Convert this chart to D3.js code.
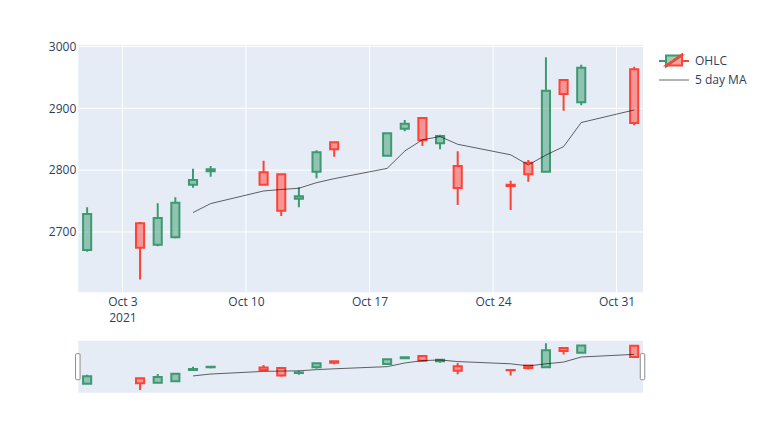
<!DOCTYPE html>
<html>
<head>
<meta charset="utf-8">
<script src="https://cdn.jsdelivr.net/npm/d3@7"></script>
<style>
  html, body { margin: 0; padding: 0; background: #fff; }
  svg { display: block; font-family: "Open Sans", verdana, arial, sans-serif; }
</style>
</head>
<body>
<svg id="chart" width="768" height="443"></svg>
<script>
// ---- data ----
const dates = ["2021-10-01","2021-10-04","2021-10-05","2021-10-06","2021-10-07","2021-10-08",
  "2021-10-11","2021-10-12","2021-10-13","2021-10-14","2021-10-15",
  "2021-10-18","2021-10-19","2021-10-20","2021-10-21","2021-10-22",
  "2021-10-25","2021-10-26","2021-10-27","2021-10-28","2021-10-29","2021-11-01"];
const open  = [2670.7,2714.0,2679.3,2691.3,2776.4,2798.0, 2796.4,2793.2,2753.7,2797.4,2845.0,
  2823.3,2867.0,2884.3,2843.4,2806.6, 2776.4,2812.0,2797.4,2945.8,2909.7,2963.1];
const high  = [2739.8,2716.0,2746.3,2756.0,2802.3,2806.6, 2815.2,2795.0,2772.2,2832.0,2846.0,
  2861.0,2881.0,2886.0,2857.3,2830.4, 2782.8,2816.3,2982.5,2947.0,2970.6,2967.3];
const low   = [2668.0,2623.3,2677.0,2689.6,2771.5,2789.3, 2776.0,2725.7,2739.8,2786.7,2821.7,
  2822.0,2862.8,2839.0,2833.7,2743.5, 2735.4,2781.2,2797.0,2896.1,2904.9,2872.5];
const close = [2729.0,2674.4,2722.5,2747.3,2784.0,2801.3, 2776.4,2734.3,2757.6,2828.8,2833.7,
  2859.5,2875.1,2848.2,2855.2,2771.0, 2774.3,2793.2,2928.5,2923.1,2965.7,2876.2];
// 5 day moving average (starts at the 5th trading day)
const maDates = dates.slice(4);
const maValues = [2731.4,2745.9,2766.3,2768.7,2770.7,2779.7,2786.2,
  2802.8,2830.9,2849.1,2854.3,2841.8,2824.8,2808.4,2824.4,2838.0,2877.0,2897.3];
const yTicks = [2700, 2800, 2900, 3000];
const xTickDates = ["2021-10-03","2021-10-10","2021-10-17","2021-10-24","2021-10-31"];
const xTickLabels = ["Oct 3","Oct 10","Oct 17","Oct 24","Oct 31"];
const yearLabel = "2021";
const legendNames = ["OHLC", "5 day MA"];

// ---- styles ----
const INC = "#3D9970", DEC = "#FF4136";
const TXT = "#2a3f5f", BG = "#e5ecf6";
const MA_COLOR = "rgba(0,0,0,0.6)";

const parse = s => { const [y,m,d] = s.split("-").map(Number); return new Date(Date.UTC(y, m-1, d)); };
const rows = dates.map((d,i) => ({date: parse(d), o: open[i], h: high[i], l: low[i], c: close[i]}));
const maRows = maDates.map((d,i) => ({date: parse(d), v: maValues[i]}));

const svg = d3.select("#chart");
const L = 78.3, R = 643, T = 45, B = 292.3;
const sT = 340.7, sB = 392.7;

const x = d3.scaleUtc()
  .domain([new Date(Date.UTC(2021,8,30,12)), new Date(Date.UTC(2021,10,1,12))])
  .range([L, R]);
const y = d3.scaleLinear().domain([2602.4, 3002.4]).range([B, T]);
const ys = d3.scaleLinear().domain([2602.4, 3002.4]).range([sB, sT]);

const dayPx = x(parse("2021-10-02")) - x(parse("2021-10-01"));
const halfW = dayPx * 0.23;

// main plot background
svg.append("rect").attr("x", L).attr("y", T).attr("width", R-L).attr("height", B-T).attr("fill", BG);

// grid
const gx = svg.append("g");
gx.selectAll("line.xg").data(xTickDates.map(parse)).join("line")
  .attr("x1", d => x(d)).attr("x2", d => x(d)).attr("y1", T).attr("y2", B)
  .attr("stroke", "#fff").attr("stroke-width", 1);
gx.selectAll("line.yg").data(yTicks).join("line")
  .attr("x1", L).attr("x2", R).attr("y1", d => y(d)).attr("y2", d => y(d))
  .attr("stroke", "#fff").attr("stroke-width", 1);

// axes (labels only)
const yAxis = d3.axisLeft(y).tickValues(yTicks).tickSize(0).tickPadding(2).tickFormat(d3.format("d"));
const gy = svg.append("g").attr("transform", `translate(${L},0)`).call(yAxis);
gy.select(".domain").remove();
gy.selectAll("text").attr("fill", TXT).attr("font-size", 12).attr("font-family", "'Open Sans', verdana, arial, sans-serif");

const xAxis = d3.axisBottom(x).tickValues(xTickDates.map(parse)).tickSize(0).tickPadding(0)
  .tickFormat((d,i) => xTickLabels[i]);
const gxa = svg.append("g").attr("transform", `translate(0,${B})`).call(xAxis);
gxa.select(".domain").remove();
gxa.selectAll("text").attr("fill", TXT).attr("font-size", 12)
  .attr("font-family", "'Open Sans', verdana, arial, sans-serif").attr("dy", null).attr("y", 14);
gxa.selectAll(".tick").filter((d,i) => i === 0).append("text")
  .attr("fill", TXT).attr("font-size", 12).attr("text-anchor", "middle")
  .attr("font-family", "'Open Sans', verdana, arial, sans-serif")
  .attr("y", 30).text(yearLabel);

// candles drawer
function drawCandles(g, ysc, clipId) {
  const cg = g.append("g").attr("clip-path", `url(#${clipId})`);
  const c = cg.selectAll("g.candle").data(rows).join("g");
  c.each(function(d) {
    const sel = d3.select(this);
    const col = d.c >= d.o ? INC : DEC;
    const cx = x(d.date);
    const top = ysc(Math.max(d.o, d.c)), bot = ysc(Math.min(d.o, d.c));
    const p = `M${cx},${ysc(d.l)}V${bot}M${cx - halfW},${bot}V${top}H${cx + halfW}V${bot}Z M${cx},${top}V${ysc(d.h)}`;
    sel.append("rect").attr("x", cx - halfW).attr("y", top).attr("width", 2*halfW)
      .attr("height", Math.max(bot - top, 0.01)).attr("fill", col).attr("fill-opacity", 0.5);
    sel.append("path").attr("d", p).attr("fill", "none").attr("stroke", col).attr("stroke-width", 2);
  });
  const line = d3.line().x(d => x(d.date)).y(d => ysc(d.v));
  cg.append("path").datum(maRows).attr("d", line).attr("fill", "none")
    .attr("stroke", MA_COLOR).attr("stroke-width", 1);
}

const defs = svg.append("defs");
defs.append("clipPath").attr("id", "clipMain").append("rect")
  .attr("x", L).attr("y", T).attr("width", R-L).attr("height", B-T);
defs.append("clipPath").attr("id", "clipSlider").append("rect")
  .attr("x", L).attr("y", sT).attr("width", R-L).attr("height", sB-sT);

drawCandles(svg.append("g"), y, "clipMain");

// range slider
svg.append("rect").attr("x", L).attr("y", sT).attr("width", R-L).attr("height", sB-sT).attr("fill", BG);
drawCandles(svg.append("g"), ys, "clipSlider");
const hH = 26, hW = 4.5, hY = (sT + sB)/2 - hH/2;
[L, R].forEach(hx => {
  svg.append("rect").attr("x", hx - hW/2 - 0.5).attr("y", hY).attr("width", hW).attr("height", hH)
    .attr("rx", 1).attr("fill", "#fff").attr("stroke", "#8c8c8c").attr("stroke-width", 1);
});

// legend
const lg = svg.append("g").attr("transform", "translate(674,60.5)");
lg.append("path").attr("d", "M-15,0.5H-8M-8,6V-5H8Z").attr("fill", INC).attr("fill-opacity", 0.5)
  .attr("stroke", INC).attr("stroke-width", 2);
lg.append("path").attr("d", "M15,0.5H8M8,-6V5H-8Z").attr("fill", DEC).attr("fill-opacity", 0.5)
  .attr("stroke", DEC).attr("stroke-width", 2);
lg.append("text").attr("x", 21).attr("y", 0).attr("dy", "0.35em").attr("fill", TXT)
  .attr("font-size", 12).text(legendNames[0]);
const lg2 = svg.append("g").attr("transform", "translate(674,80)");
lg2.append("line").attr("x1", -15).attr("x2", 15).attr("y1", 0).attr("y2", 0)
  .attr("stroke", MA_COLOR).attr("stroke-width", 1);
lg2.append("text").attr("x", 21).attr("y", 0).attr("dy", "0.35em").attr("fill", TXT)
  .attr("font-size", 12).text(legendNames[1]);
</script>
</body>
</html>
